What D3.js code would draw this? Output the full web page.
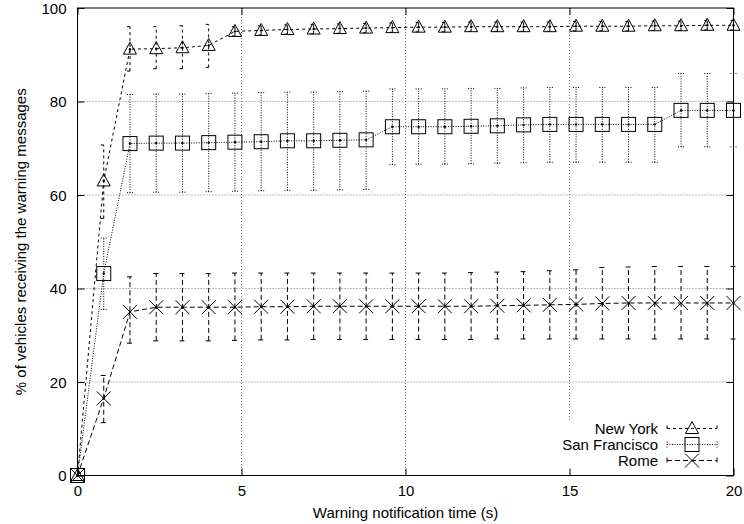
<!DOCTYPE html>
<html><head><meta charset="utf-8">
<script src="https://cdn.jsdelivr.net/npm/d3@7"></script>
<style>
html,body{margin:0;padding:0;background:#fff;}
text{font-family:"Liberation Sans",Arial,Helvetica,sans-serif;font-size:15px;fill:#000;}
</style></head>
<body>
<svg id="chart" width="744" height="524"></svg>
<script>
const times = [0, 0.8, 1.6, 2.4, 3.2, 4.0, 4.8, 5.6, 6.4, 7.2, 8.0, 8.8, 9.6, 10.4, 11.2, 12.0, 12.8, 13.6, 14.4, 15.2, 16.0, 16.8, 17.6, 18.4, 19.2, 20.0];

const newYork     = [0, 63, 91.2, 91.3, 91.5, 92, 95.0, 95.2, 95.4, 95.5, 95.6, 95.7, 95.8, 95.9, 95.9, 96.0, 96.0, 96.0, 96.0, 96.1, 96.1, 96.1, 96.2, 96.2, 96.3, 96.3];
const newYorkLow  = [0, 55, 86.5, 87, 87, 87.3, 94, 94.2, 94.4, 94.5, 94.6, 94.7, 94.8, 94.9, 94.9, 95.0, 95.0, 95.0, 95.0, 95.1, 95.1, 95.1, 95.2, 95.2, 95.3, 95.3];
const newYorkHigh = [0, 70.7, 96, 96, 96.2, 96.5, 96.0, 96.2, 96.4, 96.5, 96.6, 96.7, 96.8, 96.9, 96.9, 97.0, 97.0, 97.0, 97.0, 97.1, 97.1, 97.1, 97.2, 97.2, 97.3, 97.3];

const sanFrancisco     = [0, 43.2, 71.0, 71.1, 71.1, 71.2, 71.3, 71.4, 71.6, 71.6, 71.7, 71.8, 74.6, 74.6, 74.6, 74.7, 74.8, 75.0, 75.1, 75.1, 75.1, 75.1, 75.1, 78.1, 78.1, 78.1];
const sanFranciscoLow  = [0, 35.5, 60.5, 60.6, 60.6, 60.7, 60.8, 60.9, 61.0, 61.0, 61.1, 61.2, 66.5, 66.6, 66.6, 66.7, 66.8, 66.9, 67.0, 67.0, 67.0, 67.0, 67.0, 70.3, 70.3, 70.3];
const sanFranciscoHigh = [0, 50.8, 81.5, 81.6, 81.6, 81.7, 81.8, 81.9, 82.0, 82.0, 82.1, 82.2, 82.7, 82.7, 82.7, 82.8, 82.8, 82.9, 83.0, 83.0, 83.0, 83.0, 83.0, 86.0, 86.0, 86.0];

const rome     = [0, 16.5, 35.0, 36.0, 36.0, 36.0, 36.0, 36.1, 36.1, 36.2, 36.2, 36.2, 36.2, 36.2, 36.2, 36.2, 36.3, 36.4, 36.5, 36.6, 36.8, 36.9, 36.9, 36.9, 36.9, 36.9];
const romeLow  = [0, 11.3, 28.3, 28.8, 28.8, 28.8, 28.9, 29.0, 29.0, 29.1, 29.1, 29.1, 29.1, 29.1, 29.1, 29.1, 29.2, 29.2, 29.2, 29.2, 29.2, 29.2, 29.2, 29.2, 29.2, 29.2];
const romeHigh = [0, 21.4, 42.5, 43.2, 43.2, 43.2, 43.3, 43.3, 43.3, 43.3, 43.3, 43.3, 43.3, 43.3, 43.3, 43.4, 43.5, 43.6, 43.8, 44.0, 44.5, 44.6, 44.7, 44.7, 44.7, 44.7];

const seriesNames = ["New York", "San Francisco", "Rome"];
const xTicks = [0, 5, 10, 15, 20];
const yTicks = [0, 20, 40, 60, 80, 100];
const xLabel = "Warning notification time (s)";
const yLabel = "% of vehicles receiving the warning messages";

const series = [
  {name: seriesNames[0], v: newYork, lo: newYorkLow, hi: newYorkHigh, dash: "3,3", marker: "triangle"},
  {name: seriesNames[1], v: sanFrancisco, lo: sanFranciscoLow, hi: sanFranciscoHigh, dash: "1,1.5", marker: "square"},
  {name: seriesNames[2], v: rome, lo: romeLow, hi: romeHigh, dash: "5,3", marker: "cross"}
];

const svg = d3.select("#chart");
const L = 77.5, R = 733.5, T = 8, B = 475.5;
const x = d3.scaleLinear().domain([0, 20]).range([L, R]);
const y = d3.scaleLinear().domain([0, 100]).range([B, T]);

// grid
const grid = svg.append("g").attr("stroke", "#555").attr("stroke-width", 0.8).attr("stroke-dasharray", "1,2");
xTicks.filter(t => t > 0 && t < 20).forEach(t => grid.append("line").attr("x1", x(t)).attr("x2", x(t)).attr("y1", T).attr("y2", B));
yTicks.filter(t => t > 0 && t < 100).forEach(t => grid.append("line").attr("x1", L).attr("x2", R).attr("y1", y(t)).attr("y2", y(t)));

// legend background (opaque)
svg.append("rect").attr("x", 560).attr("y", 420).attr("width", 170).attr("height", 52).attr("fill", "#fff");

// axes with D3 (ticks inward, mirrored)
const tickLen = 7;
const xAxisB = d3.axisBottom(x).tickValues(xTicks).tickSizeInner(-tickLen).tickSizeOuter(0);
const gxb = svg.append("g").attr("transform", `translate(0,${B})`).call(xAxisB);
const xAxisT = d3.axisTop(x).tickValues(xTicks).tickSizeInner(-tickLen).tickSizeOuter(0).tickFormat("");
const gxt = svg.append("g").attr("transform", `translate(0,${T})`).call(xAxisT);
const yAxisL = d3.axisLeft(y).tickValues(yTicks).tickSizeInner(-tickLen).tickSizeOuter(0);
const gyl = svg.append("g").attr("transform", `translate(${L},0)`).call(yAxisL);
const yAxisR = d3.axisRight(y).tickValues(yTicks).tickSizeInner(-tickLen).tickSizeOuter(0).tickFormat("");
const gyr = svg.append("g").attr("transform", `translate(${R},0)`).call(yAxisR);
[gxb, gxt, gyl, gyr].forEach(g => {
  g.select(".domain").remove();
  g.selectAll("line").attr("stroke", "#000").attr("stroke-width", 1);
  g.selectAll("text").attr("font-family", "Liberation Sans, Arial, sans-serif").attr("font-size", 14).attr("fill", "#000");
});
gxb.selectAll("text").attr("dy", null).attr("y", 20);
gyl.selectAll("text").attr("x", -11).attr("dy", "0.35em");

// series
const line = d3.line().x(d => x(d[0])).y(d => y(d[1]));
function marker(g, type, cx, cy, dot) {
  if (type === "triangle") {
    const w = 6.5, hTop = 7, hBot = 5;
    g.append("path").attr("d", `M${cx},${cy - hTop}L${cx + w},${cy + hBot}L${cx - w},${cy + hBot}Z`)
      .attr("fill", "none").attr("stroke", "#000").attr("stroke-width", 1);
  } else if (type === "square") {
    g.append("rect").attr("x", cx - 7).attr("y", cy - 7).attr("width", 14).attr("height", 14)
      .attr("fill", "none").attr("stroke", "#000").attr("stroke-width", 1);
  } else {
    g.append("path").attr("d", `M${cx - 7},${cy - 7}L${cx + 7},${cy + 7}M${cx - 7},${cy + 7}L${cx + 7},${cy - 7}`)
      .attr("fill", "none").attr("stroke", "#000").attr("stroke-width", 1);
  }
  if (dot) g.append("circle").attr("cx", cx).attr("cy", cy).attr("r", 1.2).attr("fill", "#000");
}

series.forEach(s => {
  const g = svg.append("g");
  const pts = times.map((t, i) => [t, s.v[i]]);
  g.append("path").attr("d", line(pts)).attr("fill", "none").attr("stroke", "#000")
    .attr("stroke-width", 1).attr("stroke-dasharray", s.dash);
  times.forEach((t, i) => {
    const px = x(t);
    if (s.hi[i] - s.lo[i] > 0) {
      g.append("line").attr("x1", px).attr("x2", px).attr("y1", y(s.lo[i])).attr("y2", y(s.hi[i]))
        .attr("stroke", "#000").attr("stroke-width", 1).attr("stroke-dasharray", s.dash);
      [s.lo[i], s.hi[i]].forEach(val => g.append("line").attr("x1", px - 3).attr("x2", px + 3)
        .attr("y1", y(val)).attr("y2", y(val)).attr("stroke", "#000").attr("stroke-width", 1)
        .attr("stroke-dasharray", s.dash));
    }
  });
  times.forEach((t, i) => marker(g, s.marker, x(t), y(s.v[i]), true));
});

// legend
const legRows = [428.5, 444.5, 460.5];
series.forEach((s, i) => {
  const ly = legRows[i];
  const g = svg.append("g");
  g.append("text").attr("x", 658).attr("y", ly).attr("dy", "0.35em").attr("text-anchor", "end").text(s.name);
  g.append("line").attr("x1", 667).attr("x2", 717).attr("y1", ly).attr("y2", ly)
    .attr("stroke", "#000").attr("stroke-width", 1).attr("stroke-dasharray", s.dash);
  [667, 717].forEach(cx => g.append("line").attr("x1", cx).attr("x2", cx).attr("y1", ly - 3).attr("y2", ly + 3)
    .attr("stroke", "#000").attr("stroke-width", 1).attr("stroke-dasharray", s.dash));
  marker(g, s.marker, 692, ly, false);
});

// frame
svg.append("rect").attr("x", L).attr("y", T).attr("width", R - L).attr("height", B - T)
  .attr("fill", "none").attr("stroke", "#000").attr("stroke-width", 1);

// axis labels
svg.append("text").attr("x", (L + R) / 2).attr("y", 518).attr("text-anchor", "middle").text(xLabel);
svg.append("text").attr("transform", `translate(26,${(T + B) / 2}) rotate(-90)`).attr("text-anchor", "middle").text(yLabel);
</script>
</body></html>
